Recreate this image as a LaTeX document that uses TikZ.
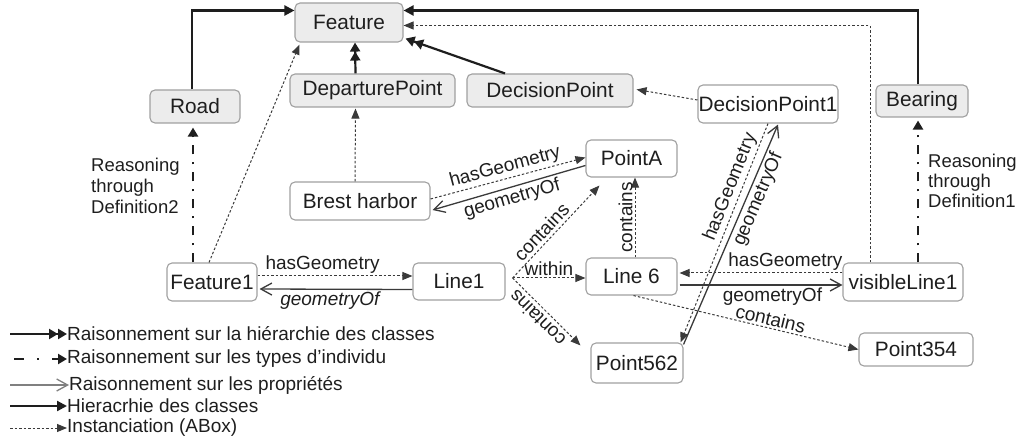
\documentclass[tikz,border=0pt]{standalone}
\usepackage{fontspec}
\setmainfont{Liberation Sans}
\usetikzlibrary{arrows.meta,calc}
\definecolor{boxfill}{HTML}{ECECEC}
\definecolor{boxline}{HTML}{A0A0A0}
\definecolor{ink}{HTML}{1E1E1E}
\definecolor{propcol}{HTML}{3A3A3A}
\tikzset{
  cls/.style={draw=boxline, fill=boxfill, rounded corners=5pt, line width=1.1pt, inner sep=0pt, text=ink, font=\fontsize{20.8}{24}\selectfont},
  ind/.style={cls, fill=white},
  lbl/.style={font=\fontsize{19}{22}\selectfont, text=ink, inner sep=2pt},
  hier/.style={line width=2.2pt, draw=ink, -{Triangle[length=10pt,width=10pt]}},
  hierreason/.style={line width=2.2pt, draw=ink, -{Triangle[length=9pt,width=10pt] Triangle[length=9pt,width=10pt]}},
  inst/.style={line width=1pt, draw=propcol, dash pattern=on 2.5pt off 2pt, -{Triangle[length=10pt,width=8pt]}},
  prop/.style={line width=1.3pt, draw=propcol, -{Straight Barb[length=11pt,width=12pt]}},
  typeinf/.style={line width=2.2pt, draw=ink, dash pattern=on 9pt off 8pt on 2pt off 8pt, -{Triangle[length=9pt,width=10pt]}},
}
\begin{document}
\begin{tikzpicture}[x=1pt,y=-1pt]
\useasboundingbox (0,0) rectangle (1022,443);
% class nodes
\node[cls, minimum width=108pt, minimum height=39pt] (Feature) at (349,22.5) {Feature};
\node[cls, minimum width=90pt, minimum height=33pt] (Road) at (195,106.5) {Road};
\node[cls, minimum width=165pt, minimum height=33pt] (DP) at (372.5,90.5) {DeparturePoint};
\node[cls, minimum width=166pt, minimum height=33pt] (DecP) at (550,90.5) {DecisionPoint};
\node[cls, minimum width=92pt, minimum height=32pt] (Bearing) at (922,101) {Bearing};
% individuals
\node[ind, minimum width=140pt, minimum height=38pt] (DP1) at (768,104) {DecisionPoint1};
\node[ind, minimum width=91pt, minimum height=37pt] (PointA) at (631.5,158.5) {PointA};
\node[ind, minimum width=140pt, minimum height=38pt] (Brest) at (360,201) {Brest harbor};
\node[ind, minimum width=90pt, minimum height=38pt] (F1) at (212,282) {Feature1};
\node[ind, minimum width=92pt, minimum height=37pt] (Line1) at (459,281.5) {Line1};
\node[ind, minimum width=91pt, minimum height=37pt] (Line6) at (631.5,276.5) {Line 6};
\node[ind, minimum width=120pt, minimum height=38pt] (VL) at (903,282) {visibleLine1};
\node[ind, minimum width=92pt, minimum height=40pt] (P562) at (637,363) {Point562};
\node[ind, minimum width=114pt, minimum height=33pt] (P354) at (916,349.5) {Point354};
% reasoning texts
\node[lbl, align=left, anchor=west, inner sep=0pt, font=\fontsize{18.5}{21}\selectfont] (R2) at (91,186) {Reasoning\\through\\Definition2};
\node[lbl, align=left, anchor=west, inner sep=0pt, font=\fontsize{18.5}{20}\selectfont] (R1) at (928,181) {Reasoning\\through\\Definition1};
% class hierarchy
\draw[hier] ($(Road.north)+(-3,0)$) |- ($(Feature.west)+(0,-12)$);
\draw[hier] ($(Bearing.north)+(-4,0)$) |- ($(Feature.east)+(0,-12)$);
\draw[hierreason] ($(DP.north)+(-17,0)$) -- ($(Feature.south)+(6,0)$);
\draw[hierreason] ($(DecP.north)+(-45,0)$) -- ($(Feature.south east)+(2,-4)$);
% instanciation to classes
\draw[inst] ($(VL.north)+(-33,0)$) |- ($(Feature.east)+(0,3)$);
\draw[inst] ($(F1.north)+(-3,0)$) -- ($(Feature.south west)+(5,2)$);
\draw[inst] ($(Brest.north)+(-5,0)$) -- ($(DP.south)+(-17,1)$);
\draw[inst] ($(DP1.west)+(0,-4)$) -- ($(DecP.east)+(3,-1)$);
% type inference
\draw[typeinf] ($(F1.north)+(-19,0)$) -- ($(Road.south)+(-2,4)$);
\draw[typeinf] ($(VL.north)+(15,0)$) -- ($(Bearing.south)+(-4,3)$);
% properties
\draw[inst] ($(Brest.east)+(0,-2)$) -- node[lbl, midway, above, sloped]{hasGeometry} ($(PointA.west)+(0,-1)$);
\draw[prop] ($(PointA.west)+(0,7)$) -- node[lbl, midway, below, sloped]{geometryOf} ($(Brest.east)+(2,9)$);
\draw[inst] ($(F1.east)+(0,-6)$) -- node[lbl, pos=0.42, above]{hasGeometry} ($(Line1.west)+(0,-5.5)$);
\draw[prop] ($(Line1.west)+(0,8)$) -- node[lbl, pos=0.54, below, font=\fontsize{19}{22}\selectfont\itshape]{geometryOf} ($(F1.east)+(2,7)$);
\coordinate (hub) at ($(Line1.east)+(7,-3.5)$);
\coordinate (p562in) at ($(P562.north west)+(-10,3)$);
\draw[inst] (hub) -- node[lbl, pos=0.42, above, sloped, inner sep=3pt]{contains} ($(PointA.south west)+(14,8)$);
\draw[inst] (hub) -- node[lbl, midway, above]{within} ($(Line6.west)+(0,1.5)$);
\draw[inst] (hub) -- (p562in);
\path (p562in) -- node[lbl, pos=0.52, above, sloped, allow upside down, inner sep=4pt]{contains} (hub);
\draw[inst] ($(Line6.north)+(3.5,0)$) -- node[lbl, midway, above, sloped]{contains} ($(PointA.south)+(3.5,0)$);
\draw[inst] ($(VL.west)+(0,-9)$) -- node[lbl, pos=0.35, above]{hasGeometry} ($(Line6.east)+(2,-3.5)$);
\draw[prop] ($(Line6.east)+(2,8.5)$) -- node[lbl, pos=0.57, below]{geometryOf} ($(VL.west)+(0,3)$);
\draw[inst] ($(Line6.south)+(2,0)$) -- node[lbl, pos=0.6, above, sloped]{contains} (P354.west);
\draw[inst] (DP1.south) -- node[lbl, pos=0.31, above, sloped]{hasGeometry} ($(P562.north east)+(-3,0)$);
\draw[prop] ($(P562.north east)+(0,2)$) -- node[lbl, pos=0.68, below, sloped]{geometryOf} ($(DP1.south)+(10,1)$);
% legend
\node[lbl, anchor=west, inner sep=0pt] (L1) at (67,334) {Raisonnement sur la hiérarchie des classes};
\node[lbl, anchor=west, inner sep=0pt] (L2) at (67,359) {Raisonnement sur les types d'individu};
\node[lbl, anchor=west, inner sep=0pt] (L3) at (69,385) {Raisonnement sur les propriétés};
\node[lbl, anchor=west, inner sep=0pt] (L4) at (67,406) {Hieracrhie des classes};
\node[lbl, anchor=west, inner sep=0pt] (L5) at (67,428) {Instanciation (ABox)};
\coordinate (l1) at (10,334);
\coordinate (l2) at (14,359);
\coordinate (l3) at (10,385);
\coordinate (l4) at (10,406);
\coordinate (l5) at (10,428);
\draw[hierreason] (l1) -- (L1.west);
\draw[typeinf, dash pattern=on 10pt off 13pt on 2pt off 13pt] (l2) -- (L2.west);
\draw[prop, draw=gray] (l3) -- (L3.west);
\draw[hier] (l4) -- (L4.west);
\draw[inst] (l5) -- (L5.west);
\end{tikzpicture}
\end{document}
